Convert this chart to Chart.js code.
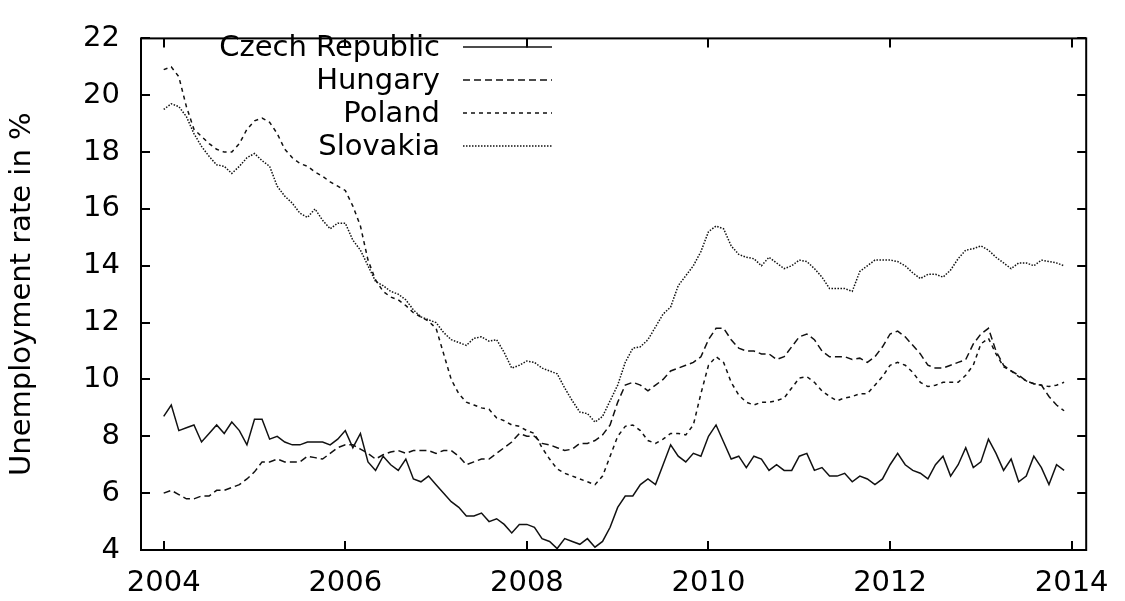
<!DOCTYPE html>
<html>
<head>
<meta charset="utf-8">
<script src="https://cdn.jsdelivr.net/npm/chart.js@4.4.1/dist/chart.umd.min.js"></script>
<style>
  html, body { margin: 0; padding: 0; background: #fff; }
</style>
</head>
<body>
<canvas id="unemploymentChart" width="1125" height="601"></canvas>
<script>
// monthly data, Jan 2004 .. Dec 2013
const startYear = 2004;
const countries = ["Czech Republic", "Hungary", "Poland", "Slovakia"];

const czech = [
    8.7, 9.1, 8.2, 8.3, 8.4, 7.8, 8.1, 8.4, 8.1, 8.5, 8.2, 7.7,
    8.6, 8.6, 7.9, 8.0, 7.8, 7.7, 7.7, 7.8, 7.8, 7.8, 7.7, 7.9,
    8.2, 7.6, 8.1, 7.1, 6.8, 7.3, 7.0, 6.8, 7.2, 6.5, 6.4, 6.6,
    6.3, 6.0, 5.7, 5.5, 5.2, 5.2, 5.3, 5.0, 5.1, 4.9, 4.6, 4.9,
    4.9, 4.8, 4.4, 4.3, 4.05, 4.4, 4.3, 4.2, 4.4, 4.1, 4.3, 4.8,
    5.5, 5.9, 5.9, 6.3, 6.5, 6.3, 7.0, 7.7, 7.3, 7.1, 7.4, 7.3,
    8.0, 8.4, 7.8, 7.2, 7.3, 6.9, 7.3, 7.2, 6.8, 7.0, 6.8, 6.8,
    7.3, 7.4, 6.8, 6.9, 6.6, 6.6, 6.7, 6.4, 6.6, 6.5, 6.3, 6.5,
    7.0, 7.4, 7.0, 6.8, 6.7, 6.5, 7.0, 7.3, 6.6, 7.0, 7.6, 6.9,
    7.1, 7.9, 7.4, 6.8, 7.2, 6.4, 6.6, 7.3, 6.9, 6.3, 7.0, 6.8
];

const hungary = [
    6.0, 6.1, 5.95, 5.8, 5.8, 5.9, 5.9, 6.1, 6.1, 6.2, 6.3, 6.5,
    6.75, 7.1, 7.1, 7.2, 7.1, 7.1, 7.1, 7.3, 7.25, 7.2, 7.4, 7.6,
    7.7, 7.7, 7.55, 7.4, 7.2, 7.35, 7.45, 7.5, 7.4, 7.5, 7.5, 7.5,
    7.4, 7.5, 7.5, 7.3, 7.0, 7.1, 7.2, 7.2, 7.4, 7.6, 7.8, 8.1,
    8.0, 8.0, 7.75, 7.7, 7.6, 7.5, 7.55, 7.75, 7.75, 7.85, 8.05, 8.4,
    9.2, 9.8, 9.9, 9.8, 9.6, 9.8, 10.0, 10.3, 10.4, 10.5, 10.6, 10.8,
    11.4, 11.8, 11.8, 11.4, 11.1, 11.0, 11.0, 10.9, 10.9, 10.7, 10.8, 11.15,
    11.5, 11.6, 11.4, 11.0, 10.8, 10.8, 10.8, 10.7, 10.75, 10.6, 10.8, 11.15,
    11.6, 11.7, 11.5, 11.2, 10.9, 10.5, 10.4, 10.4, 10.5, 10.6, 10.7, 11.25,
    11.6, 11.8, 11.0, 10.5, 10.3, 10.15, 9.95, 9.85, 9.8, 9.4, 9.1, 8.9
];

const poland = [
    20.9, 21.0, 20.65, 19.6, 18.8, 18.55, 18.3, 18.1, 18.0, 18.0, 18.3, 18.8,
    19.1, 19.2, 19.05, 18.65, 18.1, 17.8, 17.6, 17.5, 17.3, 17.15, 16.95, 16.8,
    16.65, 16.1, 15.4, 14.2, 13.5, 13.1, 12.9, 12.8, 12.6, 12.35, 12.2, 12.05,
    11.8, 10.9, 10.0, 9.5, 9.2, 9.1, 9.0, 8.95, 8.65, 8.55, 8.4, 8.35,
    8.2, 8.1, 7.6, 7.2, 6.85, 6.7, 6.6, 6.5, 6.4, 6.3, 6.6, 7.3,
    8.0, 8.35, 8.4, 8.2, 7.85, 7.75, 7.9, 8.1, 8.1, 8.05, 8.4, 9.5,
    10.5, 10.8, 10.6, 9.9, 9.45, 9.2, 9.1, 9.2, 9.2, 9.25, 9.35, 9.7,
    10.05, 10.1, 9.9, 9.6, 9.4, 9.25, 9.35, 9.4, 9.5, 9.5, 9.8, 10.1,
    10.5, 10.6, 10.5, 10.25, 9.9, 9.75, 9.8, 9.9, 9.9, 9.9, 10.15, 10.5,
    11.25, 11.45, 10.9, 10.45, 10.3, 10.1, 9.95, 9.85, 9.8, 9.75, 9.8, 9.9
];

const slovakia = [
    19.5, 19.7, 19.6, 19.25, 18.65, 18.2, 17.85, 17.55, 17.5, 17.25, 17.5, 17.8,
    17.95, 17.7, 17.5, 16.8, 16.45, 16.2, 15.85, 15.7, 16.0, 15.6, 15.3, 15.5,
    15.5, 14.9, 14.55, 14.0, 13.45, 13.3, 13.1, 13.0, 12.8, 12.45, 12.2, 12.1,
    12.0, 11.65, 11.4, 11.3, 11.2, 11.45, 11.5, 11.35, 11.4, 10.95, 10.4, 10.5,
    10.65, 10.6, 10.4, 10.3, 10.2, 9.7, 9.25, 8.85, 8.8, 8.5, 8.7, 9.25,
    9.8, 10.6, 11.1, 11.15, 11.4, 11.85, 12.3, 12.55, 13.3, 13.65, 14.0, 14.5,
    15.2, 15.4, 15.3, 14.7, 14.4, 14.3, 14.25, 14.0, 14.3, 14.1, 13.9, 14.0,
    14.2, 14.15, 13.9, 13.6, 13.2, 13.2, 13.2, 13.1, 13.8, 14.0, 14.2, 14.2,
    14.2, 14.15, 14.0, 13.75, 13.55, 13.7, 13.7, 13.6, 13.85, 14.25, 14.55, 14.6,
    14.7, 14.55, 14.3, 14.1, 13.9, 14.1, 14.1, 14.0, 14.2, 14.15, 14.1, 14.0
];

const yearTicks = [2004, 2006, 2008, 2010, 2012, 2014];
const dashes = [[], [7, 4], [4, 4], [1.5, 1.5]];

function toPoints(values) {
    return values.map((v, i) => ({ x: startYear + i / 12, y: v }));
}

const series = [czech, hungary, poland, slovakia];

Chart.defaults.font.family = "'DejaVu Sans', sans-serif";
Chart.defaults.font.size = 29;
Chart.defaults.color = '#000';

// box + inward ticks on all four sides, like gnuplot
const frameTicks = {
    id: 'frameTicks',
    afterDatasetsDraw(chart) {
        const { ctx, chartArea: a, scales: { x, y } } = chart;
        const len = 9;
        ctx.save();
        ctx.strokeStyle = '#000';
        ctx.lineWidth = 2;
        ctx.beginPath();
        x.ticks.forEach(t => {
            const px = Math.round(x.getPixelForValue(t.value));
            ctx.moveTo(px, a.bottom); ctx.lineTo(px, a.bottom - len);
            ctx.moveTo(px, a.top); ctx.lineTo(px, a.top + len);
        });
        y.ticks.forEach(t => {
            const py = Math.round(y.getPixelForValue(t.value));
            ctx.moveTo(a.left, py); ctx.lineTo(a.left + len, py);
            ctx.moveTo(a.right, py); ctx.lineTo(a.right - len, py);
        });
        ctx.stroke();
        ctx.strokeRect(a.left, a.top, a.right - a.left, a.bottom - a.top);
        ctx.restore();
    }
};

// key in the top left corner: label right aligned, sample line after it
const keyBox = {
    id: 'keyBox',
    afterDatasetsDraw(chart) {
        const ctx = chart.ctx;
        const textRight = 440, lineStart = 463, lineEnd = 552;
        const rows = [48, 81, 114, 147];
        ctx.save();
        ctx.font = "29px 'DejaVu Sans'";
        ctx.fillStyle = '#000';
        ctx.textAlign = 'right';
        ctx.textBaseline = 'middle';
        chart.data.datasets.forEach((ds, i) => {
            ctx.fillText(ds.label, textRight, rows[i]);
            ctx.beginPath();
            ctx.setLineDash(ds.borderDash);
            ctx.lineWidth = ds.borderWidth;
            ctx.strokeStyle = ds.borderColor;
            ctx.moveTo(lineStart, rows[i] - 1);
            ctx.lineTo(lineEnd, rows[i] - 1);
            ctx.stroke();
        });
        ctx.restore();
    }
};

new Chart(document.getElementById("unemploymentChart"), {
    type: 'line',
    data: {
        datasets: series.map((vals, i) => ({
            label: countries[i],
            data: toPoints(vals),
            borderColor: '#111',
            borderWidth: 1.5,
            borderDash: dashes[i],
            pointRadius: 0,
            tension: 0,
            fill: false
        }))
    },
    options: {
        responsive: false,
        devicePixelRatio: 1,
        animation: false,
        layout: { padding: { left: 0, top: 21, right: 28, bottom: 0 } },
        plugins: { legend: { display: false }, tooltip: { enabled: false } },
        scales: {
            x: {
                type: 'linear',
                min: 2003.75,
                max: 2014.16,
                grid: { display: false, drawTicks: false },
                border: { display: false },
                afterBuildTicks: axis => { axis.ticks = yearTicks.map(v => ({ value: v })); },
                afterFit: axis => { axis.height = 51; },
                ticks: {
                    autoSkip: false,
                    maxRotation: 0,
                    padding: 16,
                    callback: v => String(v)
                }
            },
            y: {
                min: 4,
                max: 22,
                grid: { display: false, drawTicks: false },
                border: { display: false },
                afterFit: axis => { axis.width = 141; },
                ticks: { stepSize: 2, padding: 21 },
                title: {
                    display: true,
                    text: 'Unemployment rate in %',
                    padding: { top: 5, bottom: 0 }
                }
            }
        }
    },
    plugins: [frameTicks, keyBox]
});
</script>
</body>
</html>
